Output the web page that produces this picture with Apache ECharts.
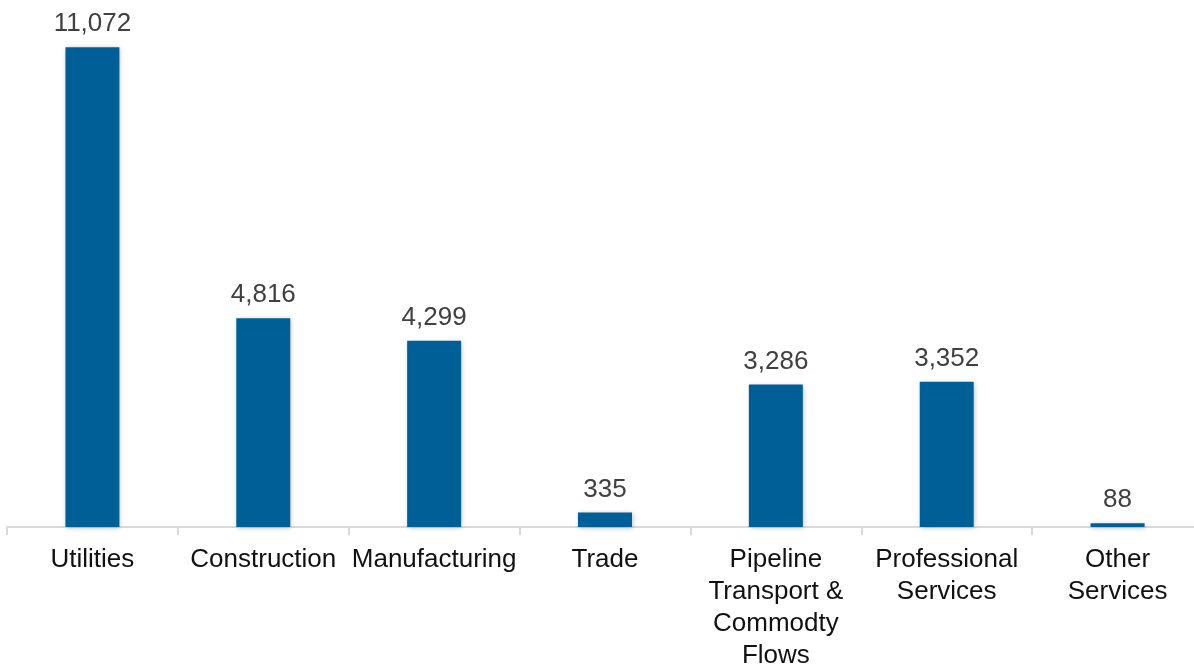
<!DOCTYPE html>
<html>
<head>
<meta charset="utf-8">
<script src="https://cdn.jsdelivr.net/npm/echarts@6/dist/echarts.min.js"></script>
<style>
  html, body { margin: 0; padding: 0; background: #ffffff; }
  #chart { width: 1194px; height: 665px; }
</style>
</head>
<body>
<div id="chart"></div>
<script>
// Industry categories (line breaks as shown under the axis)
const categories = [
  'Utilities',
  'Construction',
  'Manufacturing',
  'Trade',
  'Pipeline\nTransport &\nCommodty\nFlows',
  'Professional\nServices',
  'Other\nServices'
];

// Values per industry
const values = [11072, 4816, 4299, 335, 3286, 3352, 88];

const chart = echarts.init(document.getElementById('chart'));

chart.setOption({
  animation: false,
  grid: { left: 7, top: 7, right: -9, bottom: 138, containLabel: false, outerBoundsMode: 'none' },
  xAxis: {
    type: 'category',
    data: categories,
    axisLine: { show: true, lineStyle: { color: '#d9d9d9', width: 2 } },
    axisTick: { show: true, length: 8, lineStyle: { color: '#d9d9d9', width: 2 } },
    axisLabel: {
      interval: 0,
      margin: 17,
      color: '#111111',
      fontFamily: 'Liberation Sans, Arial, sans-serif',
      fontSize: 26,
      lineHeight: 32
    }
  },
  yAxis: {
    type: 'value',
    min: 0,
    max: 12000,
    show: false,
    splitLine: { show: false }
  },
  series: [{
    type: 'bar',
    data: values,
    barWidth: 54,
    itemStyle: {
      color: '#005f96',
      shadowColor: 'rgba(0,0,0,0.25)',
      shadowBlur: 5,
      shadowOffsetX: 1,
      shadowOffsetY: 1
    },
    label: {
      show: true,
      position: 'top',
      distance: 10,
      color: '#404040',
      fontFamily: 'Liberation Sans, Arial, sans-serif',
      fontSize: 26,
      formatter: p => p.value.toLocaleString('en-US')
    }
  }]
});
</script>
</body>
</html>
